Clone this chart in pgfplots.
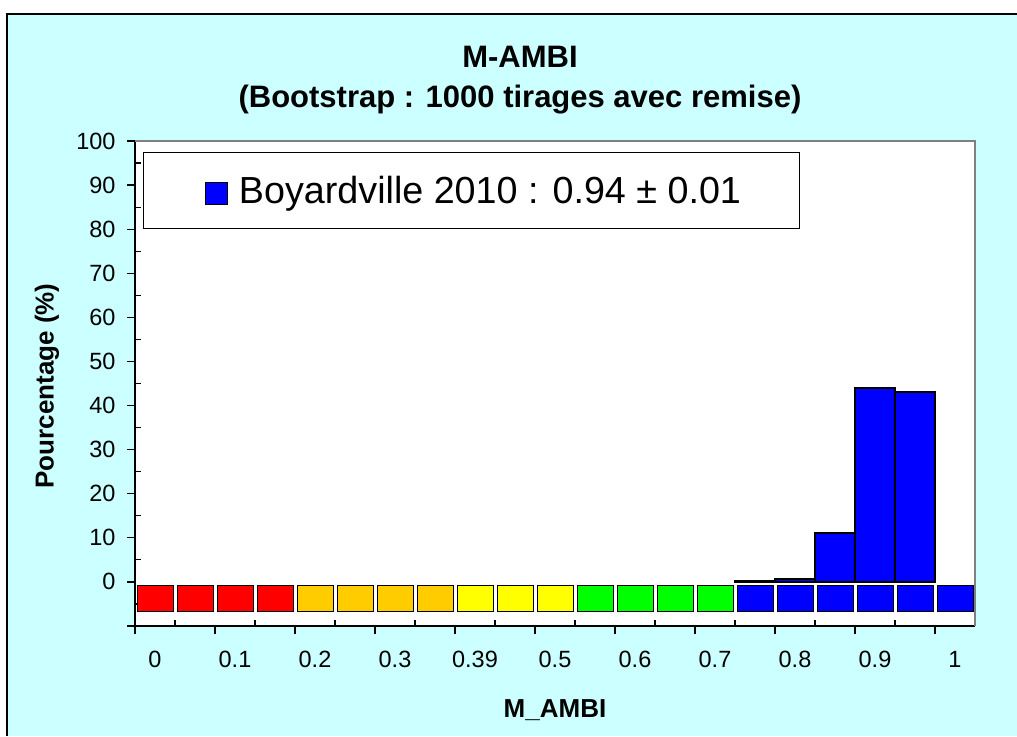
\documentclass[border=0pt]{standalone}
\usepackage{pgfplots}
\pgfplotsset{compat=1.18}
\usepackage{fontspec}
\setmainfont{Liberation Sans}
\definecolor{bgcyan}{RGB}{204,255,255}
\definecolor{xlred}{RGB}{255,0,0}
\definecolor{xlorange}{RGB}{255,204,0}
\definecolor{xlyellow}{RGB}{255,255,0}
\definecolor{xlgreen}{RGB}{0,255,0}
\definecolor{xlblue}{RGB}{0,0,255}
\definecolor{axgray}{RGB}{128,128,128}
\begin{document}
\begin{tikzpicture}[x=1pt,y=1pt]
\useasboundingbox (0,0) rectangle (1017,736);
\fill[white] (0,0) rectangle (1017,736);
\fill[bgcyan] (7,0) rectangle (1017,722);
\draw[black, line width=1.5pt] (7,0) -- (7,722) -- (1017,722);
\node[font=\fontsize{31}{36}\selectfont\bfseries] at (520,679) {M-AMBI};
\node[font=\fontsize{31}{36}\selectfont\bfseries] at (520,636) {(Bootstrap : 1000 tirages avec remise)};
\node[font=\fontsize{26}{30}\selectfont\bfseries, rotate=90] at (47,350) {Pourcentage (\%)};
\node[font=\fontsize{26}{30}\selectfont\bfseries] at (555,26) {M\_AMBI};
\begin{axis}[
  at={(135pt,110pt)}, anchor=south west, scale only axis,
  width=840pt, height=485pt,
  xmin=0, xmax=21, ymin=-10, ymax=100,
  axis lines*=left,
  axis line style={black, line width=1.5pt},
  axis background/.style={fill=white},
  tick style={black, line width=1.2pt},
  tick align=outside,
  major tick length=8pt,
  /pgf/number format/assume math mode=true,
  ytick={-10,0,10,...,100},
  yticklabels={,0,10,20,30,40,50,60,70,80,90,100},
  xtick={0,2,...,20},
  xticklabels={0,0.1,0.2,0.3,0.39,0.5,0.6,0.7,0.8,0.9,1},
  tick label style={font=\fontsize{23.5}{28}\selectfont},
  xticklabel style={xshift=20pt, yshift=-14pt},
  yticklabel style={xshift=-8pt},
  extra x ticks={1,3,...,21},
  extra x tick labels={},
  extra x tick style={tick align=inside, major tick length=6pt},
  extra y ticks={-5,5,...,95},
  extra y tick labels={},
  extra y tick style={tick align=inside, major tick length=6pt},
  clip=false,
  legend style={at={(0.0095,0.977)}, anchor=north west, draw=black, line width=1pt, fill=white,
    inner xsep=56pt, inner ysep=21.5pt,
    font=\fontsize{37.7}{42}\selectfont,
    /tikz/every odd column/.append style={column sep=9pt}},
  legend cell align=left,
]
\addplot[ybar, bar width=40pt, fill=xlblue, draw=black, line width=1.8pt,
  legend image code/.code={\path (0pt,0pt); \draw[fill=xlblue,draw=black,line width=1.2pt] (5pt,-14pt) rectangle (27pt,8pt);}]
  coordinates {(15.5,0.27) (16.5,0.64) (17.5,11.1) (18.5,43.9) (19.5,43.0)};
\addlegendentry{Boyardville 2010 : 0.94 ± 0.01}
\addplot[forget plot, only marks, mark=square*, mark size=13pt, mark options={xscale=1.385, fill=xlred, draw=none}]
  coordinates {(0.5,-3.75) (1.5,-3.75) (2.5,-3.75) (3.5,-3.75)};
\addplot[forget plot, only marks, mark=square*, mark size=13pt, mark options={xscale=1.385, fill=xlorange, draw=none}]
  coordinates {(4.5,-3.75) (5.5,-3.75) (6.5,-3.75) (7.5,-3.75)};
\addplot[forget plot, only marks, mark=square*, mark size=13pt, mark options={xscale=1.385, fill=xlyellow, draw=none}]
  coordinates {(8.5,-3.75) (9.5,-3.75) (10.5,-3.75)};
\addplot[forget plot, only marks, mark=square*, mark size=13pt, mark options={xscale=1.385, fill=xlgreen, draw=none}]
  coordinates {(11.5,-3.75) (12.5,-3.75) (13.5,-3.75) (14.5,-3.75)};
\addplot[forget plot, only marks, mark=square*, mark size=13pt, mark options={xscale=1.385, fill=xlblue, draw=none}]
  coordinates {(15.5,-3.75) (16.5,-3.75) (17.5,-3.75) (18.5,-3.75) (19.5,-3.75) (20.5,-3.75)};
\draw[axgray, line width=1.5pt] (rel axis cs:0,1) -- (rel axis cs:1,1) -- (rel axis cs:1,0);
\end{axis}
\end{tikzpicture}
\end{document}
